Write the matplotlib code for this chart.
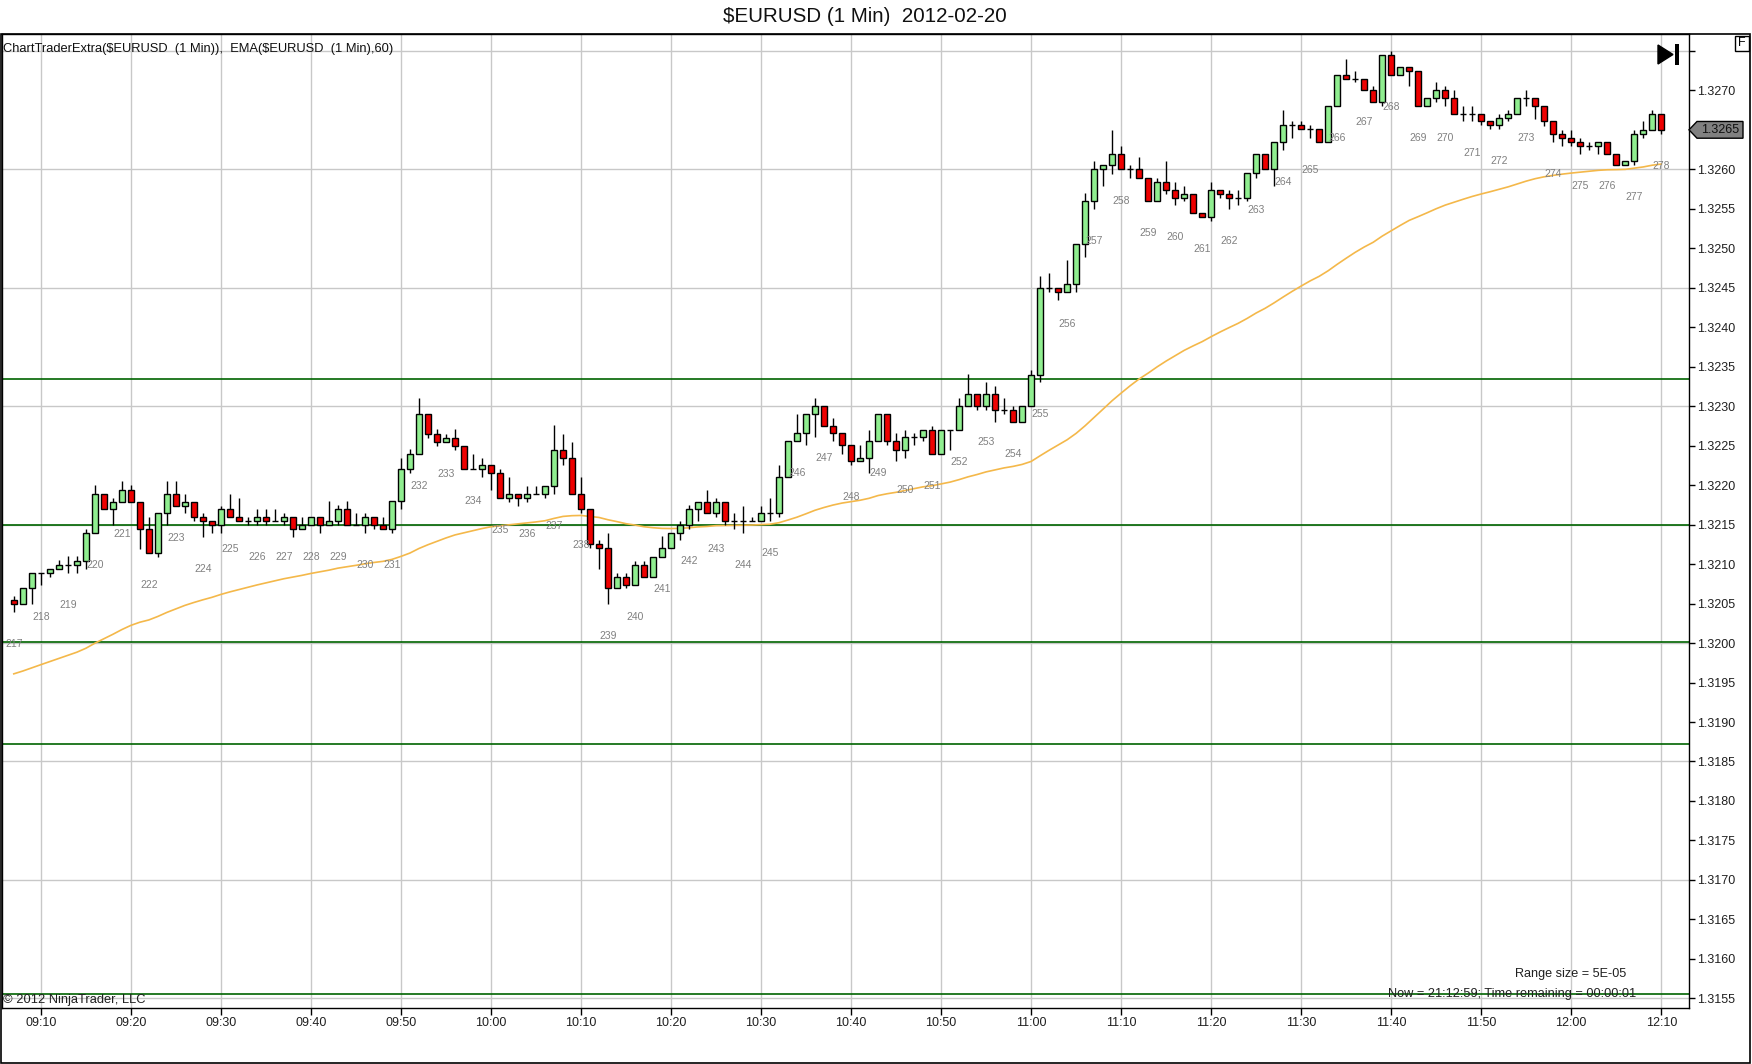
import numpy as np
import matplotlib
matplotlib.use("Agg")
import matplotlib.pyplot as plt
from matplotlib.patches import Rectangle, Polygon
from matplotlib.transforms import blended_transform_factory

# ---------------- data ----------------
OPEN = [1.32055, 1.32050, 1.32070, 1.32089, 1.32089, 1.32094, 1.32099, 1.32099, 1.32104, 1.32140,
        1.32189, 1.32170, 1.32179, 1.32194, 1.32179, 1.32145, 1.32114, 1.32165, 1.32189, 1.32174,
        1.32179, 1.32160, 1.32155, 1.32150, 1.32170, 1.32160, 1.32155, 1.32155, 1.32160, 1.32155,
        1.32155, 1.32160, 1.32145, 1.32150, 1.32160, 1.32150, 1.32155, 1.32170, 1.32150, 1.32150,
        1.32160, 1.32150, 1.32145, 1.32180, 1.32220, 1.32240, 1.32290, 1.32265, 1.32255, 1.32260,
        1.32250, 1.32220, 1.32220, 1.32225, 1.32215, 1.32184, 1.32189, 1.32184, 1.32189, 1.32189,
        1.32199, 1.32245, 1.32235, 1.32189, 1.32170, 1.32125, 1.32120, 1.32070, 1.32084, 1.32074,
        1.32099, 1.32084, 1.32109, 1.32120, 1.32140, 1.32150, 1.32170, 1.32179, 1.32165, 1.32179,
        1.32155, 1.32155, 1.32155, 1.32155, 1.32165, 1.32165, 1.32210, 1.32256, 1.32266, 1.32290,
        1.32300, 1.32275, 1.32266, 1.32251, 1.32230, 1.32235, 1.32256, 1.32290, 1.32256, 1.32245,
        1.32261, 1.32261, 1.32270, 1.32240, 1.32270, 1.32270, 1.32300, 1.32315, 1.32300, 1.32315,
        1.32295, 1.32295, 1.32280, 1.32300, 1.32340, 1.32450, 1.32450, 1.32445, 1.32455, 1.32505,
        1.32560, 1.32600, 1.32605, 1.32620, 1.32600, 1.32600, 1.32589, 1.32560, 1.32584, 1.32574,
        1.32564, 1.32569, 1.32545, 1.32540, 1.32574, 1.32569, 1.32564, 1.32564, 1.32595, 1.32620,
        1.32600, 1.32635, 1.32656, 1.32656, 1.32651, 1.32651, 1.32635, 1.32680, 1.32720, 1.32715,
        1.32715, 1.32700, 1.32685, 1.32745, 1.32720, 1.32730, 1.32725, 1.32680, 1.32690, 1.32700,
        1.32690, 1.32670, 1.32670, 1.32670, 1.32661, 1.32656, 1.32665, 1.32670, 1.32690, 1.32690,
        1.32680, 1.32661, 1.32645, 1.32640, 1.32635, 1.32630, 1.32630, 1.32635, 1.32620, 1.32605,
        1.32610, 1.32645, 1.32650, 1.32670]
HIGH = [1.32060, 1.32070, 1.32089, 1.32089, 1.32094, 1.32105, 1.32110, 1.32110, 1.32145, 1.32200,
        1.32189, 1.32184, 1.32205, 1.32200, 1.32179, 1.32160, 1.32165, 1.32205, 1.32205, 1.32189,
        1.32179, 1.32165, 1.32155, 1.32174, 1.32189, 1.32184, 1.32160, 1.32170, 1.32170, 1.32170,
        1.32165, 1.32160, 1.32160, 1.32160, 1.32160, 1.32180, 1.32175, 1.32180, 1.32165, 1.32165,
        1.32160, 1.32160, 1.32180, 1.32235, 1.32246, 1.32310, 1.32290, 1.32271, 1.32265, 1.32271,
        1.32250, 1.32240, 1.32235, 1.32225, 1.32220, 1.32210, 1.32189, 1.32199, 1.32199, 1.32199,
        1.32276, 1.32265, 1.32255, 1.32210, 1.32170, 1.32130, 1.32140, 1.32089, 1.32089, 1.32104,
        1.32104, 1.32109, 1.32135, 1.32140, 1.32155, 1.32175, 1.32179, 1.32194, 1.32184, 1.32179,
        1.32165, 1.32174, 1.32160, 1.32174, 1.32184, 1.32225, 1.32256, 1.32290, 1.32290, 1.32310,
        1.32300, 1.32285, 1.32266, 1.32251, 1.32251, 1.32270, 1.32290, 1.32290, 1.32266, 1.32270,
        1.32266, 1.32270, 1.32275, 1.32270, 1.32270, 1.32310, 1.32341, 1.32315, 1.32330, 1.32325,
        1.32310, 1.32300, 1.32300, 1.32346, 1.32465, 1.32469, 1.32450, 1.32485, 1.32505, 1.32570,
        1.32610, 1.32605, 1.32650, 1.32630, 1.32605, 1.32615, 1.32589, 1.32589, 1.32610, 1.32584,
        1.32579, 1.32569, 1.32545, 1.32584, 1.32574, 1.32574, 1.32574, 1.32595, 1.32620, 1.32620,
        1.32635, 1.32675, 1.32661, 1.32661, 1.32656, 1.32651, 1.32680, 1.32720, 1.32740, 1.32725,
        1.32715, 1.32705, 1.32745, 1.32750, 1.32730, 1.32730, 1.32725, 1.32690, 1.32710, 1.32705,
        1.32700, 1.32680, 1.32680, 1.32670, 1.32661, 1.32670, 1.32675, 1.32690, 1.32700, 1.32690,
        1.32680, 1.32661, 1.32650, 1.32650, 1.32640, 1.32635, 1.32635, 1.32635, 1.32620, 1.32610,
        1.32650, 1.32661, 1.32675, 1.32670]
LOW = [1.32039, 1.32050, 1.32050, 1.32074, 1.32084, 1.32094, 1.32089, 1.32089, 1.32094, 1.32140,
       1.32170, 1.32150, 1.32179, 1.32179, 1.32119, 1.32114, 1.32109, 1.32150, 1.32174, 1.32165,
       1.32155, 1.32134, 1.32139, 1.32139, 1.32160, 1.32155, 1.32150, 1.32150, 1.32150, 1.32155,
       1.32150, 1.32134, 1.32145, 1.32150, 1.32140, 1.32150, 1.32150, 1.32150, 1.32150, 1.32140,
       1.32145, 1.32145, 1.32140, 1.32170, 1.32215, 1.32240, 1.32260, 1.32250, 1.32255, 1.32245,
       1.32220, 1.32220, 1.32210, 1.32194, 1.32184, 1.32179, 1.32174, 1.32179, 1.32189, 1.32184,
       1.32189, 1.32225, 1.32189, 1.32165, 1.32120, 1.32094, 1.32050, 1.32070, 1.32070, 1.32074,
       1.32084, 1.32084, 1.32109, 1.32120, 1.32130, 1.32145, 1.32155, 1.32165, 1.32160, 1.32150,
       1.32145, 1.32140, 1.32155, 1.32155, 1.32155, 1.32160, 1.32210, 1.32256, 1.32251, 1.32261,
       1.32275, 1.32256, 1.32240, 1.32225, 1.32230, 1.32215, 1.32256, 1.32251, 1.32230, 1.32235,
       1.32251, 1.32256, 1.32240, 1.32240, 1.32245, 1.32270, 1.32300, 1.32295, 1.32295, 1.32280,
       1.32290, 1.32280, 1.32280, 1.32300, 1.32330, 1.32445, 1.32435, 1.32445, 1.32445, 1.32489,
       1.32550, 1.32579, 1.32594, 1.32600, 1.32589, 1.32589, 1.32560, 1.32560, 1.32569, 1.32555,
       1.32560, 1.32545, 1.32540, 1.32535, 1.32564, 1.32550, 1.32555, 1.32560, 1.32589, 1.32600,
       1.32579, 1.32625, 1.32640, 1.32651, 1.32640, 1.32635, 1.32635, 1.32680, 1.32715, 1.32710,
       1.32700, 1.32685, 1.32680, 1.32720, 1.32720, 1.32705, 1.32680, 1.32680, 1.32685, 1.32680,
       1.32670, 1.32661, 1.32661, 1.32656, 1.32651, 1.32651, 1.32661, 1.32670, 1.32680, 1.32664,
       1.32655, 1.32634, 1.32630, 1.32630, 1.32620, 1.32625, 1.32620, 1.32620, 1.32605, 1.32605,
       1.32605, 1.32640, 1.32650, 1.32645]
CLOSE = [1.32050, 1.32070, 1.32089, 1.32089, 1.32094, 1.32099, 1.32099, 1.32104, 1.32140, 1.32189,
         1.32170, 1.32179, 1.32194, 1.32179, 1.32145, 1.32114, 1.32165, 1.32189, 1.32174, 1.32179,
         1.32160, 1.32155, 1.32150, 1.32170, 1.32160, 1.32155, 1.32155, 1.32160, 1.32155, 1.32155,
         1.32160, 1.32145, 1.32150, 1.32160, 1.32150, 1.32155, 1.32170, 1.32150, 1.32150, 1.32160,
         1.32150, 1.32145, 1.32180, 1.32220, 1.32240, 1.32290, 1.32265, 1.32255, 1.32260, 1.32250,
         1.32220, 1.32220, 1.32225, 1.32215, 1.32184, 1.32189, 1.32184, 1.32189, 1.32189, 1.32199,
         1.32245, 1.32235, 1.32189, 1.32170, 1.32125, 1.32120, 1.32070, 1.32084, 1.32074, 1.32099,
         1.32084, 1.32109, 1.32120, 1.32140, 1.32150, 1.32170, 1.32179, 1.32165, 1.32179, 1.32155,
         1.32155, 1.32155, 1.32155, 1.32165, 1.32165, 1.32210, 1.32256, 1.32266, 1.32290, 1.32300,
         1.32275, 1.32266, 1.32251, 1.32230, 1.32235, 1.32256, 1.32290, 1.32256, 1.32245, 1.32261,
         1.32261, 1.32270, 1.32240, 1.32270, 1.32270, 1.32300, 1.32315, 1.32300, 1.32315, 1.32295,
         1.32295, 1.32280, 1.32300, 1.32340, 1.32450, 1.32450, 1.32445, 1.32455, 1.32505, 1.32560,
         1.32600, 1.32605, 1.32620, 1.32600, 1.32600, 1.32589, 1.32560, 1.32584, 1.32574, 1.32564,
         1.32569, 1.32545, 1.32540, 1.32574, 1.32569, 1.32564, 1.32564, 1.32595, 1.32620, 1.32600,
         1.32635, 1.32656, 1.32656, 1.32651, 1.32651, 1.32635, 1.32680, 1.32720, 1.32715, 1.32715,
         1.32700, 1.32685, 1.32745, 1.32720, 1.32730, 1.32725, 1.32680, 1.32690, 1.32700, 1.32690,
         1.32670, 1.32670, 1.32670, 1.32661, 1.32656, 1.32665, 1.32670, 1.32690, 1.32690, 1.32680,
         1.32661, 1.32645, 1.32640, 1.32635, 1.32630, 1.32630, 1.32635, 1.32620, 1.32605, 1.32610,
         1.32645, 1.32650, 1.32670, 1.32650]

EMA_START = 1.31961          # EMA(60) value read at the first visible bar
EMA_PERIOD = 60
TIME_LABELS = ["09:10", "09:20", "09:30", "09:40", "09:50", "10:00", "10:10", "10:20", "10:30",
               "10:40", "10:50", "11:00", "11:10", "11:20", "11:30", "11:40", "11:50", "12:00", "12:10"]
FIRST_TICK_BAR = 3           # bar index of 09:10 (first bar is 09:07)
PRICE_TICKS = [1.3155, 1.3160, 1.3165, 1.3170, 1.3175, 1.3180, 1.3185, 1.3190, 1.3195, 1.3200,
               1.3205, 1.3210, 1.3215, 1.3220, 1.3225, 1.3230, 1.3235, 1.3240, 1.3245, 1.3250,
               1.3255, 1.3260, 1.3265, 1.3270, 1.3275]
HIDDEN_PRICE_LABELS = [1.3265, 1.3275]
GRID_PRICES = [1.3155, 1.3170, 1.3185, 1.3200, 1.3215, 1.3230, 1.3245, 1.3260, 1.3275]
LEVEL_LINES = [1.32334, 1.32150, 1.32001, 1.31872, 1.31555]
BAR_NUMBERS = list(range(217, 279))   # printed under every third bar
BAR_NUMBER_STEP = 3
LAST_PRICE = 1.3265
TITLE = "$EURUSD (1 Min)  2012-02-20"
HEADER = "ChartTraderExtra($EURUSD  (1 Min)),  EMA($EURUSD  (1 Min),60)"
RANGE_TEXT = "Range size = 5E-05"
NOW_TEXT = "Now = 21:12:59; Time remaining = 00:00:01"
COPYRIGHT = "\u00a9 2012 NinjaTrader, LLC"

# ---------------- styling ----------------
plt.rcParams['font.family'] = ['Liberation Sans', 'DejaVu Sans']
plt.rcParams['text.parse_math'] = False
W, H = 1752, 1064
UP_COLOR = '#90EE90'
DOWN_COLOR = '#EE0000'
EMA_COLOR = '#F4B84A'
LEVEL_COLOR = '#006400'
GRID_COLOR = '#C8C8C8'
LABEL_GRAY = '#808080'

def fx(px):
    return px / W

def fy(py):
    return 1 - py / H

fig = plt.figure(figsize=(W / 100, H / 100), dpi=100)
fig.patch.set_facecolor('white')

ax_left, ax_right, ax_top, ax_bottom = 1.5, 1689.0, 34.3, 1008.3
ax = fig.add_axes([fx(ax_left), fy(ax_bottom), (ax_right - ax_left) / W, (ax_bottom - ax_top) / H])
ax.set_facecolor('white')

n = len(CLOSE)
xs = np.arange(n)
ax.set_xlim(-1.367, 186.08)
ax.set_ylim(1.315374, 1.32771)

# grid
for gp in GRID_PRICES:
    ax.axhline(gp, color=GRID_COLOR, lw=1, zorder=0)
tick_pos = [FIRST_TICK_BAR + 10 * k for k in range(len(TIME_LABELS))]
for tp in tick_pos:
    ax.axvline(tp, color=GRID_COLOR, lw=1, zorder=0)

# level lines
for lv in LEVEL_LINES:
    ax.axhline(lv, color=LEVEL_COLOR, lw=1.2, zorder=1)

# EMA
alpha = 2.0 / (EMA_PERIOD + 1)
ema = [EMA_START]
for c in CLOSE[1:]:
    ema.append(ema[-1] + alpha * (c - ema[-1]))
ax.plot(xs, ema, color=EMA_COLOR, lw=1.2, zorder=2)

# candles
bw = 0.7
for i in range(n):
    o, h, l, c = OPEN[i], HIGH[i], LOW[i], CLOSE[i]
    ax.vlines(i, l, h, color='black', lw=1, zorder=3)
    if abs(c - o) < 1e-7:
        ax.hlines(o, i - bw / 2, i + bw / 2, color='black', lw=1, zorder=4)
    else:
        col = UP_COLOR if c > o else DOWN_COLOR
        ax.add_patch(Rectangle((i - bw / 2, min(o, c)), bw, abs(c - o), facecolor=col,
                               edgecolor='black', lw=1, zorder=4))

# bar numbers
for k, num in enumerate(BAR_NUMBERS):
    b = k * BAR_NUMBER_STEP
    if b < n:
        ax.annotate(str(num), xy=(b, LOW[b]), xytext=(0, -32), textcoords='offset pixels',
                    ha='center', va='center', fontsize=7.5, color=LABEL_GRAY, zorder=5)

# axes / ticks
ax.set_xticks(tick_pos)
ax.set_xticklabels(TIME_LABELS)
ax.tick_params(axis='x', direction='out', length=4.8, width=1, pad=1.5, labelsize=9,
               colors='black', labelcolor='#202020')
ax.yaxis.tick_right()
ax.set_yticks(PRICE_TICKS)
ylabels = ['' if any(abs(p - hp) < 1e-9 for hp in HIDDEN_PRICE_LABELS) else f'{p:.4f}'
           for p in PRICE_TICKS]
ax.set_yticklabels(ylabels)
ax.tick_params(axis='y', direction='out', length=4, width=1, pad=1.5, labelsize=9,
               colors='black', labelcolor='#202020')
for s in ax.spines.values():
    s.set_color('black')
    s.set_linewidth(1)

# texts
fig.text(fx(3.3), fy(49.3), HEADER, ha='left', va='center', fontsize=9.3, color='#101010')
fig.text(fx(865), fy(16), TITLE, ha='center', va='center', fontsize=14.8, color='#101010')
fig.text(fx(3), fy(1000), COPYRIGHT, ha='left', va='center', fontsize=9.3, color='#202020')
fig.text(fx(1571), fy(973.5), RANGE_TEXT, ha='center', va='center', fontsize=9.1, color='#202020')
fig.text(fx(1512.5), fy(994), NOW_TEXT, ha='center', va='center', fontsize=9.2, color='#202020')

# last price marker
bt = blended_transform_factory(fig.transFigure, ax.transData)
hh = 0.000106
marker = Polygon([(fx(1689), LAST_PRICE), (fx(1697), LAST_PRICE + hh), (fx(1743), LAST_PRICE + hh),
                  (fx(1743), LAST_PRICE - hh), (fx(1697), LAST_PRICE - hh)], closed=True,
                 facecolor='#808080', edgecolor='black', lw=1, transform=bt, clip_on=False, zorder=10)
fig.add_artist(marker)
fig.text(fx(1720), LAST_PRICE, f'{LAST_PRICE:.4f}', transform=bt, ha='center', va='center',
         fontsize=9, color='#101010', zorder=11)

# play-to-end icon
fig.add_artist(Polygon([(fx(1658), fy(45)), (fx(1658), fy(64)), (fx(1673), fy(54.5))], closed=True,
                       facecolor='black', edgecolor='black', transform=fig.transFigure))
fig.add_artist(Rectangle((fx(1675), fy(65)), fx(3.5), 21 / H, facecolor='black', edgecolor='none',
                         transform=fig.transFigure))

# "F" box
fig.add_artist(Rectangle((fx(1735), fy(51)), fx(14), 15 / H, facecolor='white', edgecolor='black',
                         lw=1, transform=fig.transFigure))
fig.text(fx(1742), fy(43.5), 'F', ha='center', va='center', fontsize=9, color='black')

# outer frame
fig.add_artist(Rectangle((fx(0.5), fy(1063.3)), fx(1749.5), (1063.3 - 34.3) / H, fill=False,
                         edgecolor='black', lw=1.2, transform=fig.transFigure))

fig.savefig('out.png', dpi=100, facecolor='white')
